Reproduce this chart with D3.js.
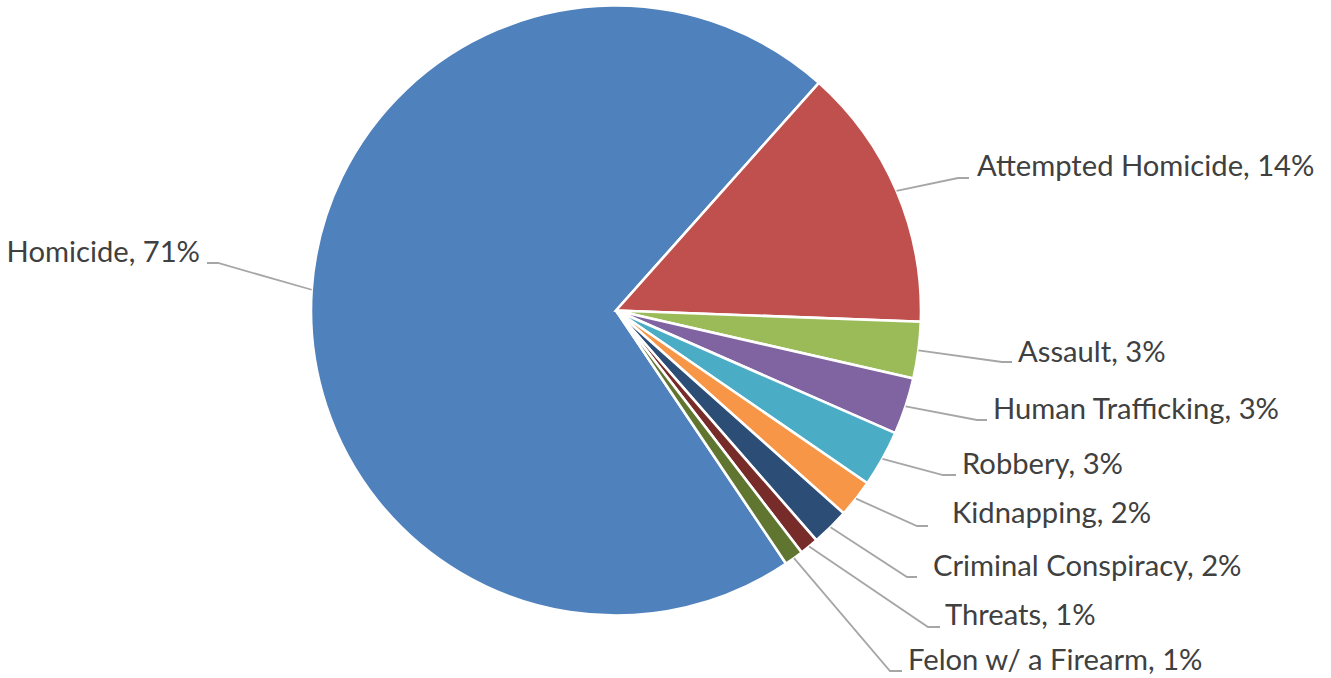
<!DOCTYPE html>
<html>
<head>
<meta charset="utf-8">
<script src="https://cdn.jsdelivr.net/npm/d3@7"></script>
<style>
  html, body { margin: 0; padding: 0; background: #ffffff; }
  svg { display: block; }
  text { font-family: Lato, "Open Sans", sans-serif; fill: #404040; }
</style>
</head>
<body>
<svg id="chart" width="1331" height="678"></svg>
<script>
// ---- data ----
const categories = ["Homicide", "Attempted Homicide", "Assault", "Human Trafficking", "Robbery",
                    "Kidnapping", "Criminal Conspiracy", "Threats", "Felon w/ a Firearm"];
const values = [71, 14, 3, 3, 3, 2, 2, 1, 1];
const percentLabels = ["71%", "14%", "3%", "3%", "3%", "2%", "2%", "1%", "1%"];
const colors = ["#4F81BD", "#C0504D", "#9BBB59", "#8064A2", "#4BACC6",
                "#F79646", "#2C4D75", "#772C2A", "#5F7530"];

// ---- layout (label placement, not data) ----
const labelTextX = [200, 977, 1018, 993, 962, 952, 933, 945, 908];
const labelBaseY = [262, 176, 362, 419, 474, 523, 576, 625, 670];
const elbowX     = [218, 958, 1002, 977, 943, 917, 907, 928, 890];
const lineEndX   = [207, 969, 1012, 987, 956, 928, 917, 940, 902];
const lineY      = [263, 178, 362, 420, 475, 526, 577, 627, 671];

const cx = 616, cy = 310.5, R = 305;
const startDeg = 146.1;

const svg = d3.select("#chart");
const g = svg.append("g").attr("transform", `translate(${cx},${cy})`);

const pie = d3.pie().sort(null).value(d => d)
  .startAngle(startDeg * Math.PI / 180)
  .endAngle(startDeg * Math.PI / 180 + 2 * Math.PI);
const arcs = pie(values);
const arc = d3.arc().innerRadius(0).outerRadius(R);

g.selectAll("path.slice").data(arcs).join("path")
  .attr("class", "slice")
  .attr("d", arc)
  .attr("fill", (d, i) => colors[i])
  .attr("stroke", "#ffffff")
  .attr("stroke-width", 2.6)
  .attr("stroke-linejoin", "miter");

// leader lines
const leaders = svg.append("g");
arcs.forEach((d, i) => {
  const a = (d.startAngle + d.endAngle) / 2;
  const sx = cx + R * Math.sin(a), sy = cy - R * Math.cos(a);
  leaders.append("polyline")
    .attr("points", `${sx},${sy} ${elbowX[i]},${lineY[i]} ${lineEndX[i]},${lineY[i]}`)
    .attr("fill", "none")
    .attr("stroke", "#A6A6A6")
    .attr("stroke-width", 1.8);
});

// labels
svg.append("g").selectAll("text").data(arcs).join("text")
  .attr("x", (d, i) => labelTextX[i])
  .attr("y", (d, i) => labelBaseY[i])
  .attr("text-anchor", (d, i) => i === 0 ? "end" : "start")
  .attr("font-size", 29.2)
  .text((d, i) => `${categories[i]}, ${percentLabels[i]}`);
</script>
</body>
</html>
